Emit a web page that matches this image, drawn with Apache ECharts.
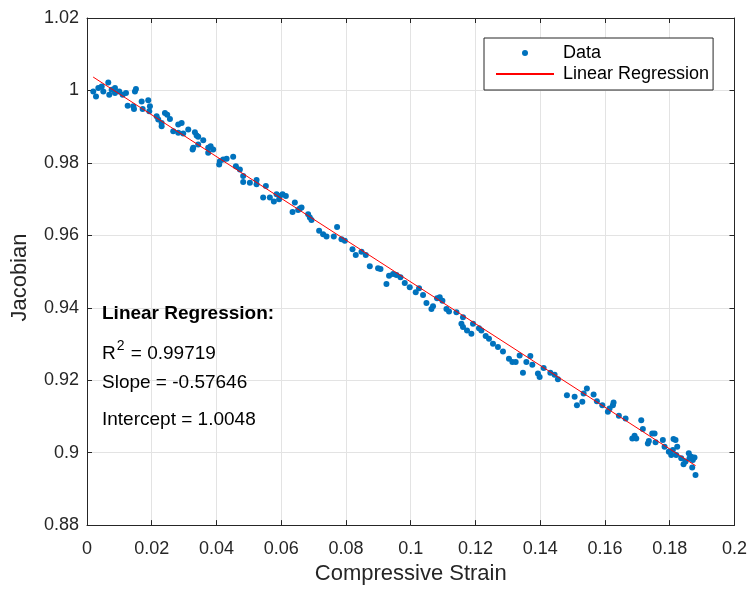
<!DOCTYPE html>
<html>
<head>
<meta charset="utf-8">
<script src="https://cdn.jsdelivr.net/npm/echarts@6/dist/echarts.min.js"></script>
<style>
  html, body { margin: 0; padding: 0; background: #fff; }
  #chart { width: 750px; height: 590px; }
</style>
</head>
<body>
<div id="chart"></div>
<script>
// measured points (compressive strain, jacobian)
var strain = [
  0.00194, 0.00278, 0.00349, 0.00454, 0.00503, 0.00657, 0.00688, 0.00762, 0.00864, 0.00864,
  0.00997, 0.01102, 0.01204, 0.01256, 0.01429, 0.01481, 0.01512, 0.01451, 0.01688, 0.01892,
  0.01719, 0.01944, 0.01923, 0.02151, 0.02201, 0.02306, 0.02306, 0.02407, 0.02478, 0.02562,
  0.02664, 0.02818, 0.02923, 0.02818, 0.02972, 0.03127, 0.03333, 0.03386, 0.03435, 0.0359,
  0.03281, 0.03262, 0.03435, 0.03744, 0.03818, 0.03744, 0.03898, 0.04105, 0.04207, 0.04312,
  0.04515, 0.04083, 0.04599, 0.04722, 0.04824, 0.04824, 0.05031, 0.05238,
  0.05238, 0.05525, 0.05441, 0.05648, 0.05772, 0.05855, 0.05957, 0.0604, 0.06142, 0.05935,
  0.0642, 0.06349, 0.06574, 0.06627, 0.06522, 0.0683, 0.06883, 0.06935, 0.0717, 0.07293,
  0.07398, 0.07623, 0.07725, 0.07861, 0.07963, 0.08201, 0.08302, 0.08478, 0.08611, 0.08735,
  0.08991, 0.09065,
  0.0925, 0.0933, 0.09454, 0.09559, 0.09682, 0.09815, 0.09969, 0.10154, 0.10256, 0.1038,
  0.10485, 0.10639, 0.10688, 0.10812, 0.10895, 0.10978, 0.11102, 0.11182, 0.11411, 0.11565,
  0.11614, 0.11738, 0.11873, 0.11614, 0.11923, 0.12108, 0.12182, 0.12315, 0.12417, 0.1254,
  0.12694, 0.12849, 0.13034, 0.13139, 0.13241, 0.13364, 0.13466, 0.13571, 0.13694,
  0.13756, 0.13929, 0.13981, 0.14105, 0.14312, 0.14444, 0.14546, 0.14824, 0.15062, 0.15133,
  0.153, 0.1534, 0.15441, 0.15648, 0.1575, 0.15917, 0.16089, 0.16142, 0.16244, 0.16265,
  0.16429, 0.16636, 0.16843, 0.16914, 0.16966, 0.1712, 0.1717, 0.17324, 0.17355, 0.1746,
  0.17531, 0.17562, 0.17787, 0.1784, 0.17972, 0.18046, 0.18117, 0.18179, 0.18231, 0.18096,
  0.182, 0.18355, 0.18426, 0.18488, 0.18589, 0.18611, 0.18664, 0.18713, 0.18765, 0.18694, 0.18796
]
var jacobian = [
  0.99973, 0.99836, 1.00067, 1.00111, 0.99973, 1.00221, 0.99882, 1.0002, 1.00067, 0.99929,
  0.99973, 0.99882, 0.99929, 0.9958, 0.99561, 0.99973, 1.00039, 0.99489, 0.99698, 0.99726,
  0.99489, 0.99561, 0.99423, 0.99285, 0.99195, 0.9901, 0.99104, 0.99379, 0.99332, 0.99214,
  0.98873, 0.99057, 0.99104, 0.98829, 0.9881, 0.9892, 0.98845, 0.98755, 0.98719, 0.98625,
  0.98416, 0.9837, 0.98507, 0.98416, 0.9846, 0.98279, 0.9837, 0.98048, 0.98095, 0.98114,
  0.98169, 0.97957, 0.9791, 0.9782, 0.97635, 0.9747, 0.97454, 0.97525,
  0.97407, 0.9736, 0.97041, 0.97041, 0.96931, 0.97132, 0.97085, 0.97132, 0.97085, 0.96994,
  0.96904, 0.96645, 0.96739, 0.96766, 0.967, 0.96582, 0.96491, 0.96425, 0.96123, 0.96032,
  0.95969, 0.95969, 0.96233, 0.95894, 0.95848, 0.95619, 0.95454, 0.95545, 0.95454, 0.95144,
  0.95089, 0.95069,
  0.94657, 0.94885, 0.94932, 0.94904, 0.94841, 0.94684, 0.94566, 0.94428, 0.94538, 0.94354,
  0.94134, 0.93969, 0.94043, 0.94263, 0.94291, 0.94197, 0.93969, 0.93895, 0.93878, 0.93557,
  0.93466, 0.93372, 0.93282, 0.93741, 0.93557, 0.93438, 0.93372, 0.93218, 0.93144, 0.93007,
  0.92916, 0.92795, 0.92594, 0.92503, 0.92503, 0.92685, 0.92209, 0.92503, 0.92668,
  0.92429, 0.92182, 0.92091, 0.92338, 0.92209, 0.92154, 0.92025, 0.91585, 0.91541, 0.9131,
  0.91403, 0.91631, 0.91769, 0.91604, 0.9142, 0.9131, 0.91128, 0.91219, 0.9131, 0.91384,
  0.91018, 0.90944, 0.90394, 0.90468, 0.90394, 0.90897, 0.9065, 0.90256, 0.9032, 0.90531,
  0.90531, 0.90284, 0.90347, 0.90166, 0.90028, 0.89934, 0.90375, 0.90347, 0.90166, 0.90072,
  0.89934, 0.89844, 0.89679, 0.89753, 0.89981, 0.89844, 0.8989, 0.89797, 0.89863, 0.89588, 0.89384
]
// fitted line end points
var fitStrain = [0.0019, 0.1880]
var fitJacobian = [1.0037, 0.8964]
var statLines = ['Linear Regression:', '0.99719', 'Slope = -0.57646', 'Intercept = 1.0048']

var chart = echarts.init(document.getElementById('chart'))

var points = strain.map(function (x, i) { return [x, jacobian[i]] })
var fitLine = fitStrain.map(function (x, i) { return [x, fitJacobian[i]] })

var axisColor = '#262626'
var fontFamily = '"Liberation Sans", Arial, Helvetica, sans-serif'

function frameAxis (pos, min, max, interval) {
  return {
    type: 'value',
    position: pos,
    min: min,
    max: max,
    interval: interval,
    axisLine: { show: true, onZero: false, lineStyle: { color: axisColor, width: 1 } },
    axisTick: { show: true, inside: true, length: 5, lineStyle: { color: axisColor } },
    axisLabel: { show: false },
    splitLine: { show: false }
  }
}

chart.setOption({
  backgroundColor: '#fff',
  animation: false,
  textStyle: { fontFamily: fontFamily },
  grid: { left: 87, right: 15, top: 18, bottom: 63, containLabel: false },
  legend: {
    left: 484,
    top: 38,
    orient: 'vertical',
    backgroundColor: '#fff',
    borderColor: '#262626',
    borderWidth: 1,
    borderRadius: 0,
    padding: [5, 4, 6, 11],
    itemWidth: 58,
    itemHeight: 6,
    itemGap: 1,
    textStyle: { fontSize: 18, color: '#000', lineHeight: 20, fontFamily: fontFamily, padding: [0, 0, 0, 4] },
    data: [
      { name: 'Data', icon: 'circle' },
      { name: 'Linear Regression', itemStyle: { color: 'rgba(0,0,0,0)', borderColor: 'rgba(0,0,0,0)', borderWidth: 0 } }
    ]
  },
  xAxis: [
    {
      type: 'value',
      position: 'bottom',
      min: 0,
      max: 0.2,
      interval: 0.02,
      name: 'Compressive Strain',
      nameLocation: 'middle',
      nameGap: 34,
      nameTextStyle: { fontSize: 22, color: axisColor, fontFamily: fontFamily },
      axisLine: { show: true, onZero: false, lineStyle: { color: axisColor, width: 1 } },
      axisTick: { show: true, inside: true, length: 5, lineStyle: { color: axisColor } },
      axisLabel: { fontSize: 18, color: axisColor, margin: 15, fontFamily: fontFamily },
      splitLine: { show: true, lineStyle: { color: '#e3e3e3', width: 1 } }
    },
    frameAxis('top', 0, 0.2, 0.02)
  ],
  yAxis: [
    {
      type: 'value',
      position: 'left',
      min: 0.88,
      max: 1.02,
      interval: 0.02,
      name: 'Jacobian',
      nameLocation: 'middle',
      nameGap: 56,
      nameTextStyle: { fontSize: 22, color: axisColor, fontFamily: fontFamily, padding: [0, 12, 0, 0] },
      axisLine: { show: true, onZero: false, lineStyle: { color: axisColor, width: 1 } },
      axisTick: { show: true, inside: true, length: 5, lineStyle: { color: axisColor } },
      axisLabel: { fontSize: 18, color: axisColor, margin: 8, fontFamily: fontFamily },
      splitLine: { show: true, lineStyle: { color: '#e3e3e3', width: 1 } }
    },
    frameAxis('right', 0.88, 1.02, 0.02)
  ],
  series: [
    {
      name: 'Data',
      type: 'scatter',
      symbol: 'circle',
      symbolSize: 6,
      itemStyle: { color: '#0072BD', opacity: 1 },
      data: points,
      z: 3
    },
    {
      name: 'Linear Regression',
      type: 'line',
      symbol: 'none',
      showSymbol: false,
      lineStyle: { color: '#FF0000', width: 1 },
      itemStyle: { color: '#FF0000' },
      data: fitLine,
      z: 4
    }
  ],
  graphic: [
    {
      type: 'text', x: 102, y: 314, z: 10,
      style: { text: statLines[0], fontSize: 19, fontWeight: 'bold', fill: '#000', fontFamily: fontFamily, verticalAlign: 'middle' }
    },
    {
      type: 'text', x: 102, y: 350, z: 10,
      style: {
        text: '{r|R}{s|2}{r| = ' + statLines[1] + '}',
        fill: '#000',
        fontFamily: fontFamily,
        verticalAlign: 'middle',
        rich: {
          r: { fontSize: 19, fontFamily: fontFamily, fill: '#000', verticalAlign: 'bottom', lineHeight: 26 },
          s: { fontSize: 14, fontFamily: fontFamily, fill: '#000', verticalAlign: 'top', lineHeight: 14, padding: [2, 1, 0, 1] }
        }
      }
    },
    {
      type: 'text', x: 102, y: 383, z: 10,
      style: { text: statLines[2], fontSize: 19, fill: '#000', fontFamily: fontFamily, verticalAlign: 'middle' }
    },
    {
      type: 'text', x: 102, y: 420, z: 10,
      style: { text: statLines[3], fontSize: 19, fill: '#000', fontFamily: fontFamily, verticalAlign: 'middle' }
    }
  ]
})

window.addEventListener('resize', function () {
  chart.resize()
})
</script>
</body>
</html>
